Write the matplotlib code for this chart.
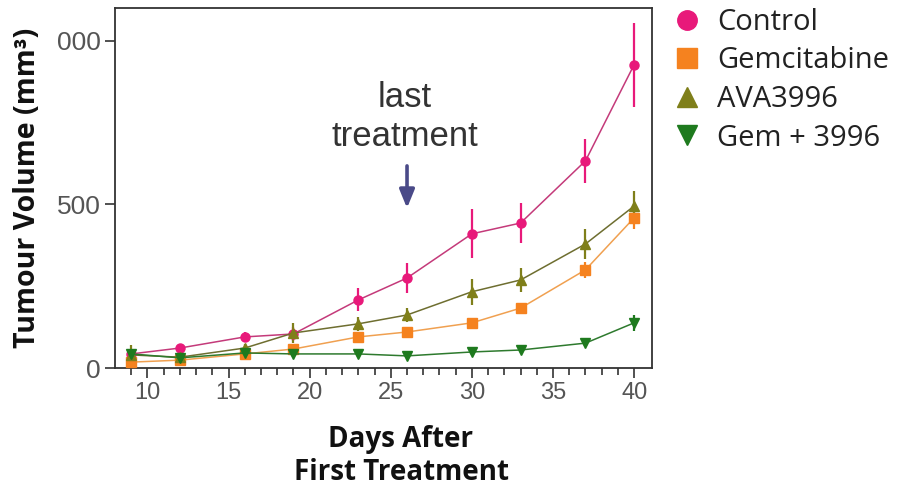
import matplotlib
matplotlib.use("Agg")
import matplotlib.pyplot as plt
import numpy as np

days = [9, 12, 16, 19, 23, 26, 30, 33, 37, 40]

control = [43, 61, 95, 104, 208, 275, 410, 443, 633, 927]
control_err = [12, 12, 15, 20, 35, 45, 75, 60, 67, 128]

gemcitabine = [18, 24, 43, 58, 95, 110, 138, 183, 300, 459]
gemcitabine_err = [8, 6, 8, 10, 12, 12, 12, 15, 25, 35]

ava3996 = [40, 33, 61, 107, 135, 162, 233, 269, 379, 495]
ava3996_err = [30, 10, 12, 30, 22, 20, 40, 37, 45, 45]

gem3996 = [43, 31, 46, 43, 43, 37, 49, 55, 76, 138]
gem3996_err = [12, 8, 8, 8, 8, 6, 8, 8, 10, 25]

series_names = ["Control", "Gemcitabine", "AVA3996", "Gem + 3996"]
series_vals = [control, gemcitabine, ava3996, gem3996]
series_errs = [control_err, gemcitabine_err, ava3996_err, gem3996_err]
colors = ["#E8197A", "#F5821F", "#7F7F1A", "#1E7A1E"]
line_colors = ["#C43A7A", "#F0A050", "#6E6E30", "#2E7A2E"]
markers = ["o", "s", "^", "v"]

ytick_vals = [0, 500, 1000]
ytick_labels = ["0", "500", "000"]
xtick_vals = [10, 15, 20, 25, 30, 35, 40]

fig = plt.figure(figsize=(9.01, 4.86), dpi=100)
ax = fig.add_axes([115/901, 1-368/486, (652-115)/901, (368-8)/486])

for name, vals, errs, c, lc, m in zip(series_names, series_vals, series_errs, colors, line_colors, markers):
    ax.errorbar(days, vals, yerr=errs, color=lc, ecolor=c, elinewidth=1.6, capsize=0,
                marker=m, markersize=6.5, markerfacecolor=c, markeredgecolor=c,
                linewidth=1.1, label=name, zorder=3)

ax.set_xlim(8.0, 41.1)
ax.set_ylim(0, 1100)
ax.set_xticks(xtick_vals)
ax.set_xticks(np.arange(9, 41, 1), minor=True)
ax.set_yticks(ytick_vals)
ax.set_yticklabels(ytick_labels)
ax.tick_params(axis="both", which="major", length=7, width=1.2, color="#333333",
               labelcolor="#555555", pad=3)
ax.tick_params(axis="x", which="major", labelsize=17)
ax.tick_params(axis="y", which="major", labelsize=19)
ax.tick_params(axis="x", which="minor", length=5, width=1.2, color="#333333")
for lab in ax.get_xticklabels() + ax.get_yticklabels():
    lab.set_family("Liberation Sans")
for s in ax.spines.values():
    s.set_linewidth(1.3)
    s.set_color("#333333")

fig.text(401/901, 1-456/486, "Days After\nFirst Treatment", ha="center", va="center",
         fontsize=20, fontweight="bold", family="Open Sans", linespacing=1.15, color="#111111")
fig.text(28/901, 1-188/486, "Tumour Volume (mm³)", rotation=90, ha="center", va="center",
         fontsize=20.5, fontweight="bold", family="Open Sans", color="#111111")

fig.text(405/901, 1-117/486, "last\ntreatment", ha="center", va="center",
         fontsize=25, family="Liberation Sans", color="#333333", linespacing=1.2)
ax.annotate("", xy=(26, 480), xytext=(26, 626),
            arrowprops=dict(arrowstyle="-|>,head_width=0.45,head_length=1.1", color="#4A4A88", lw=2.6))

leg_handles = [plt.Line2D([], [], linestyle="none", marker=m, markersize=14, color=c)
               for m, c in zip(markers, colors)]
leg = fig.legend(leg_handles, series_names, loc="upper left", bbox_to_anchor=(662/901, 1.008),
                 frameon=False, prop={"family": "Open Sans", "size": 21},
                 handlelength=0.9, handletextpad=0.6, labelspacing=0.33, borderaxespad=0)
for t in leg.get_texts():
    t.set_color("#222222")

fig.savefig("out.png", dpi=100)
